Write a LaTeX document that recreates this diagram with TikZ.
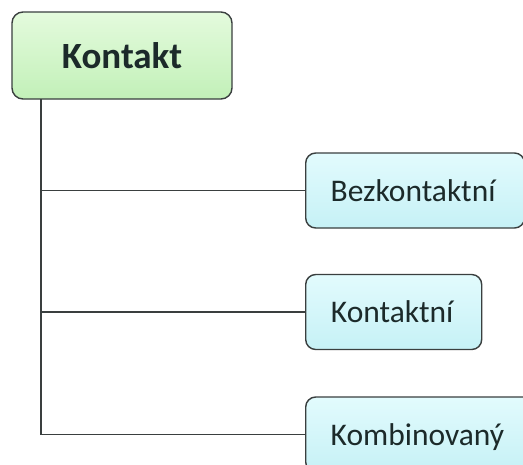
\documentclass[tikz,border=0pt]{standalone}
\usepackage{fontspec}
\setmainfont{Carlito}
\definecolor{edge}{HTML}{3A3F3F}
\definecolor{txt}{HTML}{1C2A2A}
\definecolor{rootA}{HTML}{E4FBDD}
\definecolor{rootB}{HTML}{C2F0B8}
\definecolor{kidA}{HTML}{E2FBFD}
\definecolor{kidB}{HTML}{C6F1F6}
\tikzset{
  rootbox/.style={draw=edge, line width=1.4pt, rounded corners=11pt,
    top color=rootA, bottom color=rootB, text=txt,
    minimum width=220pt, minimum height=87pt, inner sep=0pt,
    font=\fontsize{37}{40}\selectfont\bfseries},
  kidbox/.style={draw=edge, line width=1.4pt, rounded corners=10pt,
    top color=kidA, bottom color=kidB, text=txt, anchor=west,
    minimum height=75pt, inner xsep=0pt, inner ysep=0pt, text depth=0pt,
    font=\fontsize{31.5}{34}\selectfont},
  link/.style={draw=edge, line width=1.4pt}
}
\begin{document}
\begin{tikzpicture}[x=1pt,y=-1pt]
\useasboundingbox (0,0) rectangle (523,464);
\clip (0,0) rectangle (523,464);
\fill[white] (0,0) rectangle (523,464);
\node[rootbox] (root) at (122,55.5) {Kontakt};
\coordinate (trunk) at (41,99);
\node[kidbox, minimum width=217pt] (c1) at (305,190.5) {\hspace*{25pt}Bezkontaktní\hspace*{29pt}};
\node[kidbox, minimum width=176pt] (c2) at (305,312) {\hspace*{25pt}Kontaktní\hspace*{28pt}};
\node[kidbox, minimum width=235pt, text width=235pt] (c3) at (305,434.5) {\hspace*{25pt}Kombinovaný};
\draw[link] (trunk) |- (c3.west);
\draw[link] (trunk) |- (c1.west);
\draw[link] (trunk) |- (c2.west);
\end{tikzpicture}
\end{document}
